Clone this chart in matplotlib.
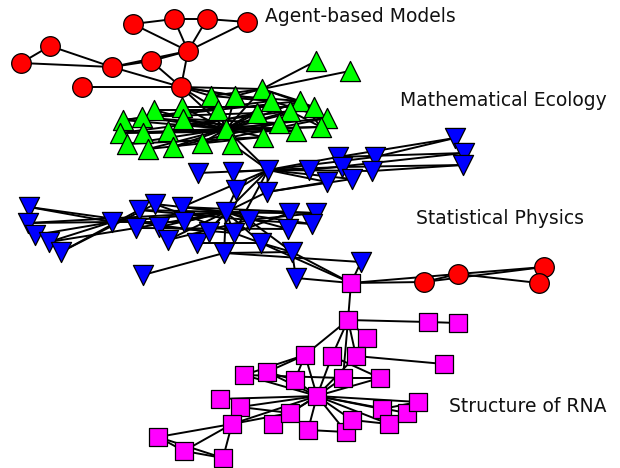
import matplotlib
matplotlib.use("Agg")
import matplotlib.pyplot as plt
from matplotlib.collections import LineCollection

# node layout in picture pixels (x right, y down)
agent_x = [133, 174, 207, 247, 188, 50, 21, 112, 151, 82, 181]
agent_y = [24, 19, 19, 22, 51, 46, 63, 67, 61, 87, 87]

ecology_x = [211, 235, 262, 271, 300, 314, 327, 290, 279, 296, 321, 257, 263, 218, 226, 232,
             202, 182, 183, 168, 173, 154, 142, 143, 148, 123, 120, 127, 316, 350]
ecology_y = [96, 96, 89, 101, 101, 107, 118, 111, 123, 131, 127, 113, 137, 110, 129, 144,
             143, 107, 119, 131, 147, 110, 117, 133, 149, 120, 133, 144, 61, 71]

physics_x = [198, 233, 268, 236, 267, 309, 338, 342, 327, 352, 375, 372, 455, 464, 463,
             29, 28, 35, 49, 61, 112, 139, 155, 136, 182, 159, 184, 168, 197, 209,
             226, 249, 234, 224, 261, 289, 316, 288, 312, 292, 143, 296, 361]
physics_y = [173, 172, 170, 190, 192, 170, 157, 167, 182, 179, 157, 171, 138, 153, 165,
             207, 223, 235, 242, 252, 222, 210, 204, 228, 207, 227, 222, 240, 243, 232,
             212, 220, 233, 253, 243, 213, 213, 229, 224, 252, 275, 278, 262]

rna_x = [351, 348, 428, 458, 367, 305, 332, 356, 444, 244, 267, 295, 343, 380, 317,
         220, 240, 232, 273, 290, 308, 346, 352, 382, 389, 407, 418, 158, 184, 223]
rna_y = [283, 320, 322, 323, 338, 355, 356, 356, 364, 375, 372, 380, 378, 378, 396,
         399, 407, 424, 424, 413, 430, 432, 420, 409, 424, 413, 402, 437, 451, 458]

tail_x = [424, 458, 544, 539]
tail_y = [282, 274, 267, 283]

# edges as index pairs within / between groups
edges_agent = [(0, 1), (1, 2), (2, 3), (1, 4), (2, 4), (3, 4), (0, 4), (4, 8), (8, 7),
               (7, 5), (5, 6), (6, 7), (4, 10), (8, 10), (7, 10), (9, 10), (7, 4)]
edges_ecology = [(14, k) for k in range(28) if k != 14] + [
    (2, 28), (2, 29), (2, 4), (2, 5), (0, 2), (1, 2), (25, 4), (22, 11), (26, 7), (21, 13),
    (17, 5), (18, 8), (23, 10), (26, 9), (27, 12), (3, 6), (4, 10), (7, 10), (25, 3),
    (22, 9), (16, 6), (19, 11), (24, 12), (20, 8), (0, 3), (1, 4)]
edges_agent_ecology = [(10, 0), (10, 1), (10, 2), (10, 14), (10, 13), (10, 3)]
edges_physics = [(0, 2), (1, 2), (2, 5), (2, 6), (2, 7), (2, 8), (2, 9), (2, 10), (2, 11),
                 (5, 13), (6, 12), (7, 14), (10, 12), (11, 14), (6, 13), (2, 3), (2, 4),
                 (4, 8), (4, 9), (3, 30), (2, 30), (4, 30), (2, 24), (2, 32),
                 (15, 20), (16, 20), (17, 20), (18, 20), (19, 21), (18, 23), (16, 30),
                 (15, 29), (19, 22), (20, 30), (20, 26), (21, 30), (22, 30), (23, 30),
                 (24, 30), (25, 30), (26, 30), (27, 30), (28, 30), (29, 30), (31, 30),
                 (32, 30), (33, 30), (34, 30), (35, 30), (36, 30), (37, 30), (38, 30),
                 (22, 34), (21, 31), (23, 37), (27, 31), (28, 34), (25, 32), (31, 36),
                 (31, 38), (31, 39), (34, 39), (33, 39), (40, 33), (39, 41), (33, 42),
                 (32, 35), (24, 36)]
edges_ecology_physics = [(14, 2), (15, 2)]
edges_physics_rna = [(39, 0), (41, 0), (42, 0), (34, 0)]
edges_rna = [(0, 1), (1, 2), (2, 3), (1, 5), (1, 6), (1, 7), (1, 4), (1, 12), (4, 7), (7, 8),
             (5, 9), (5, 10), (5, 14), (6, 14), (7, 14), (5, 11), (6, 13), (12, 13),
             (10, 11), (17, 27), (17, 28), (17, 29), (27, 28), (27, 29), (28, 29),
             (17, 16), (17, 19), (20, 21), (16, 19), (22, 24), (23, 26), (9, 12),
             (15, 14), (16, 14)] + [(14, k) for k in range(9, 27) if k not in (14, 15, 16)]
edges_rna_tail = [(0, 0), (0, 1)]
edges_tail = [(0, 1), (1, 2), (1, 3), (0, 2)]

labels = ["Agent-based Models", "Mathematical Ecology", "Statistical Physics", "Structure of RNA"]
label_x = [265, 400, 416, 449]
label_y = [17, 100, 219, 406]


def pts(xs, ys):
    return list(zip(xs, ys))


A, E, B, S, C = (pts(agent_x, agent_y), pts(ecology_x, ecology_y), pts(physics_x, physics_y),
                 pts(rna_x, rna_y), pts(tail_x, tail_y))

segs = []
for g1, g2, lst in [(A, A, edges_agent), (E, E, edges_ecology), (A, E, edges_agent_ecology),
                    (B, B, edges_physics), (E, B, edges_ecology_physics),
                    (B, S, edges_physics_rna), (S, S, edges_rna), (S, C, edges_rna_tail),
                    (C, C, edges_tail)]:
    for i, j in lst:
        segs.append([g1[i], g2[j]])

fig = plt.figure(figsize=(6.2, 4.68), dpi=100)
ax = fig.add_axes([0, 0, 1, 1])
ax.set_xlim(0, 620)
ax.set_ylim(468, 0)
ax.axis("off")

ax.add_collection(LineCollection(segs, colors="black", linewidths=1.4, zorder=1))

ax.scatter(agent_x + tail_x, agent_y + tail_y, s=200, marker="o", c="#ff0000",
           edgecolors="black", linewidths=0.9, zorder=2)
ax.scatter(ecology_x, ecology_y, s=210, marker="^", c="#00ff00",
           edgecolors="black", linewidths=0.9, zorder=2)
ax.scatter(physics_x, physics_y, s=210, marker="v", c="#0000ff",
           edgecolors="black", linewidths=0.9, zorder=2)
ax.scatter(rna_x, rna_y, s=180, marker="s", c="#ff00ff",
           edgecolors="black", linewidths=0.9, zorder=2)

for txt, x, y in zip(labels, label_x, label_y):
    ax.text(x, y, txt, fontsize=13.5, ha="left", va="center", color="#111111")

fig.savefig("out.png", dpi=100)
